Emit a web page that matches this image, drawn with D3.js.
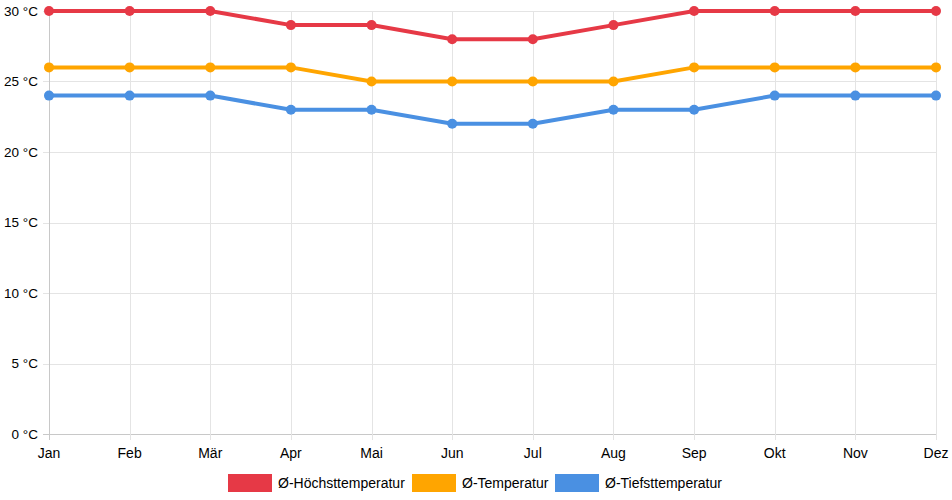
<!DOCTYPE html>
<html>
<head>
<meta charset="utf-8">
<script src="https://cdn.jsdelivr.net/npm/d3@7"></script>
<style>
  body { margin: 0; background: #fff; }
  svg text { font-family: "Liberation Sans", Arial, sans-serif; fill: #000; }
</style>
</head>
<body>
<div id="mainContainer"></div>
<script>
'use strict';

var months = ['Jan', 'Feb', 'Mär', 'Apr', 'Mai', 'Jun', 'Jul', 'Aug', 'Sep', 'Okt', 'Nov', 'Dez'];
var highTemps = [30, 30, 30, 29, 29, 28, 28, 29, 30, 30, 30, 30];
var meanTemps = [26, 26, 26, 26, 25, 25, 25, 25, 26, 26, 26, 26];
var lowTemps = [24, 24, 24, 23, 23, 22, 22, 23, 23, 24, 24, 24];
var yTicks = [0, 5, 10, 15, 20, 25, 30];
var seriesNames = ['Ø-Höchsttemperatur', 'Ø-Temperatur', 'Ø-Tiefsttemperatur'];

var svgWidth = 952,
    svgHeight = 500,
    colors = ['#e63946', '#ffa500', '#4a90e2'];

var series = [highTemps, meanTemps, lowTemps].map(function (vals, i) {
    return { name: seriesNames[i], color: colors[i], values: vals };
});

var svg = d3.select('#mainContainer')
    .append('svg')
    .attr('width', svgWidth)
    .attr('height', svgHeight);

var x = d3.scalePoint().domain(months).range([49, 936]);
var y = d3.scaleLinear().domain([0, 30]).range([434, 11]);

// grid
svg.append('g').selectAll('line.h')
    .data(yTicks)
    .enter().append('line')
    .attr('x1', 43).attr('x2', 936)
    .attr('y1', function (d) { return Math.round(y(d)) + 0.5; })
    .attr('y2', function (d) { return Math.round(y(d)) + 0.5; })
    .attr('stroke', function (d) { return d === 0 ? '#c8c8c8' : '#e4e4e4'; })
    .attr('stroke-width', 1);

svg.append('g').selectAll('line.v')
    .data(months)
    .enter().append('line')
    .attr('x1', function (d) { return Math.round(x(d)) + 0.5; })
    .attr('x2', function (d) { return Math.round(x(d)) + 0.5; })
    .attr('y1', 11).attr('y2', 440)
    .attr('stroke', function (d, i) { return i === 0 ? '#c8c8c8' : '#e4e4e4'; })
    .attr('stroke-width', 1);

// y labels
svg.append('g').selectAll('text')
    .data(yTicks)
    .enter().append('text')
    .attr('x', 38)
    .attr('y', function (d) { return y(d); })
    .attr('dy', '0.35em')
    .attr('text-anchor', 'end')
    .style('font-size', '13.5px')
    .text(function (d) { return d + ' °C'; });

// x labels
svg.append('g').selectAll('text')
    .data(months)
    .enter().append('text')
    .attr('x', function (d) { return x(d); })
    .attr('y', 458)
    .attr('text-anchor', 'middle')
    .style('font-size', '14px')
    .text(function (d) { return d; });

var line = d3.line()
    .x(function (d, i) { return x(months[i]); })
    .y(function (d) { return y(d); });

series.forEach(function (s) {
    var g = svg.append('g');
    g.append('path')
        .attr('d', line(s.values))
        .attr('fill', 'none')
        .attr('stroke', s.color)
        .attr('stroke-width', 4);
    g.selectAll('circle')
        .data(s.values)
        .enter().append('circle')
        .attr('cx', function (d, i) { return x(months[i]); })
        .attr('cy', function (d) { return y(d); })
        .attr('r', 5)
        .attr('fill', s.color);
});

// legend
var legendX = [228, 412, 555];
var legend = svg.append('g').selectAll('g')
    .data(series)
    .enter().append('g')
    .attr('transform', function (d, i) { return 'translate(' + legendX[i] + ',474)'; });

legend.append('rect')
    .attr('width', 44).attr('height', 18)
    .attr('fill', function (d) { return d.color; });

legend.append('text')
    .attr('x', 50).attr('y', 9)
    .attr('dy', '0.35em')
    .style('font-size', '14px')
    .text(function (d) { return d.name; });
</script>
</body>
</html>
